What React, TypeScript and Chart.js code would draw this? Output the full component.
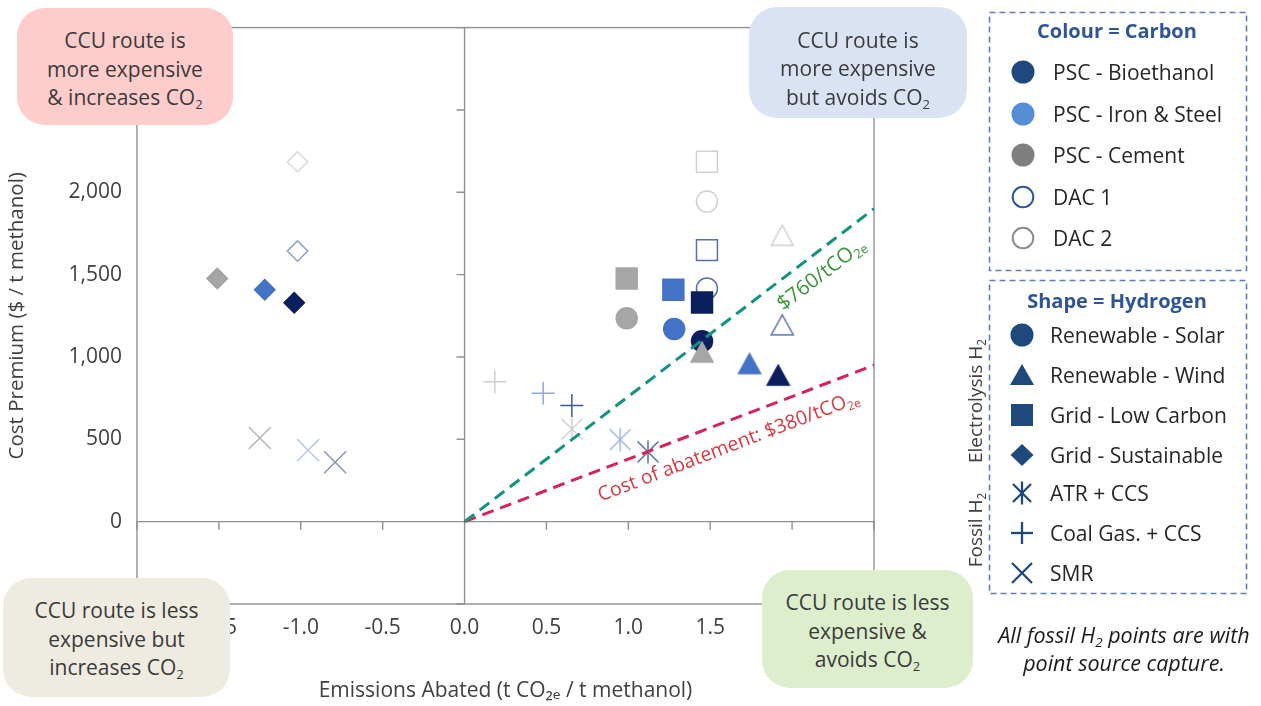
import React, { useEffect, useRef } from 'react';
import { Chart, registerables } from 'chart.js';

Chart.register(...registerables);

const FONT = '"Open Sans", "Noto Sans", sans-serif';

// ---------- axis ranges ----------
const xMin = -2;
const xMax = 2.5;
const xStep = 0.5;
const yMin = -500;
const yMax = 3000;
const yStep = 500;

// ---------- categories ----------
const carbonSources = ['PSC - Bioethanol', 'PSC - Iron & Steel', 'PSC - Cement', 'DAC 1', 'DAC 2'];
const hydrogenRoutes = [
  'Renewable - Solar',
  'Renewable - Wind',
  'Grid - Low Carbon',
  'Grid - Sustainable',
  'ATR + CCS',
  'Coal Gas. + CCS',
  'SMR',
];

// ---------- series values (order = carbonSources) ----------
const solarX = [1.45, 1.28, 0.99, 1.48, 1.48];
const solarY = [1096, 1170, 1235, 1416, 1944];
const windX = [1.915, 1.74, 1.45, 1.94, 1.94];
const windY = [890, 960, 1030, 1195, 1739];
const lowCarbonX = [1.45, 1.275, 0.99, 1.48, 1.48];
const lowCarbonY = [1331, 1408, 1476, 1649, 2185];
const sustainableX = [-1.04, -1.22, -1.51, -1.02, -1.02];
const sustainableY = [1329, 1408, 1476, 1643, 2185];
// fossil routes (order = Bioethanol, Iron & Steel, Cement)
const atrX = [1.12, 0.95, 0.655];
const atrY = [424, 498, 562];
const coalX = [0.655, 0.48, 0.185];
const coalY = [705, 779, 849];
const smrX = [-0.79, -0.955, -1.25];
const smrY = [361, 434, 508];

// cost of abatement lines
const abatementX = [0, 2.5];
const abatement760Y = [0, 1900];
const abatement380Y = [0, 950];

// ---------- styles ----------
const fillColors = ['#0B1F5C', '#4472C4', '#A6A6A6', '#FFFFFF', '#FFFFFF'];
const edgeColors = ['#0B1F5C', '#4472C4', '#A6A6A6', '#5570AA', '#D0D0D0'];
const diamondEdge = ['#0B1F5C', '#4472C4', '#A0A0A0', '#8FA3CC', '#DADADA'];
const atrColors = ['#5A6FA0', '#9DB4E3', '#D0D0D0'];
const coalColors = ['#3F5796', '#8CA8DE', '#CFCFCF'];
const smrColors = ['#8497B8', '#B9CBEA', '#B5B5B5'];
const legendCarbonFill = ['#1F497D', '#558ED5', '#7F7F7F', '#FFFFFF', '#FFFFFF'];
const legendCarbonEdge = ['#1F497D', '#558ED5', '#7F7F7F', '#2F5597', '#8C8C8C'];
const LEGEND_SHAPE = '#1F497D';
const TEXT = '#404040';

const pts = (xs: number[], ys: number[]) => xs.map((x, i) => ({ x, y: ys[i] }));

function makeTriangle(fill: string, stroke: string) {
  const c = document.createElement('canvas');
  c.width = 26;
  c.height = 24;
  const g = c.getContext('2d')!;
  g.beginPath();
  g.moveTo(13, 2);
  g.lineTo(24, 22);
  g.lineTo(2, 22);
  g.closePath();
  g.fillStyle = fill;
  g.fill();
  g.lineWidth = 1.5;
  g.strokeStyle = stroke;
  g.stroke();
  return c;
}

function makeAsterisk(color: string) {
  const c = document.createElement('canvas');
  c.width = 26;
  c.height = 26;
  const g = c.getContext('2d')!;
  g.strokeStyle = color;
  g.lineWidth = 1.5;
  g.beginPath();
  g.moveTo(2.5, 2.5);
  g.lineTo(23.5, 23.5);
  g.moveTo(23.5, 2.5);
  g.lineTo(2.5, 23.5);
  g.moveTo(13, 1.5);
  g.lineTo(13, 24.5);
  g.stroke();
  return c;
}

function drawSubLabel(
  ctx: CanvasRenderingContext2D,
  main: string,
  sub: string,
  size: number,
  color: string,
  cx: number,
  cy: number,
  angle: number
) {
  ctx.save();
  ctx.translate(cx, cy);
  ctx.rotate(-angle);
  const f1 = `${size}px ${FONT}`;
  const f2 = `${Math.round(size * 0.62)}px ${FONT}`;
  ctx.font = f1;
  const w1 = ctx.measureText(main).width;
  ctx.font = f2;
  const w2 = ctx.measureText(sub).width;
  const start = -(w1 + w2) / 2;
  ctx.fillStyle = color;
  ctx.textBaseline = 'middle';
  ctx.textAlign = 'left';
  ctx.font = f1;
  ctx.fillText(main, start, 0);
  ctx.font = f2;
  ctx.fillText(sub, start + w1, size * 0.3);
  ctx.restore();
}

const framePlugin = {
  id: 'frame',
  beforeDatasetsDraw(chart: any) {
    const { ctx, chartArea: a, scales } = chart;
    const x = scales.x;
    const y = scales.y;
    ctx.save();
    ctx.strokeStyle = '#909090';
    ctx.lineWidth = 1.4;
    ctx.strokeRect(a.left, a.top, a.right - a.left, a.bottom - a.top);
    const x0 = x.getPixelForValue(0);
    const y0 = y.getPixelForValue(0);
    ctx.beginPath();
    ctx.moveTo(x0, a.top);
    ctx.lineTo(x0, a.bottom);
    ctx.moveTo(a.left, y0);
    ctx.lineTo(a.right, y0);
    x.ticks.forEach((t: any) => {
      const px = x.getPixelForValue(t.value);
      ctx.moveTo(px, y0);
      ctx.lineTo(px, y0 + 8);
    });
    y.ticks.forEach((t: any) => {
      const py = y.getPixelForValue(t.value);
      ctx.moveTo(x0 - 8, py);
      ctx.lineTo(x0, py);
    });
    ctx.stroke();
    ctx.restore();
  },
  afterDatasetsDraw(chart: any) {
    const { ctx, scales } = chart;
    const x = scales.x;
    const y = scales.y;
    const place = (slope: number, ax: number, d: number) => {
      const px0 = x.getPixelForValue(0);
      const py0 = y.getPixelForValue(0);
      const px1 = x.getPixelForValue(1);
      const py1 = y.getPixelForValue(slope);
      const ang = Math.atan2(py0 - py1, px1 - px0);
      const bx = x.getPixelForValue(ax);
      const by = y.getPixelForValue(slope * ax);
      return { cx: bx + d * Math.sin(ang), cy: by + d * Math.cos(ang), ang };
    };
    const s760 = abatement760Y[1] / abatementX[1];
    const s380 = abatement380Y[1] / abatementX[1];
    const a = place(s760, 2.105, 20.6);
    drawSubLabel(ctx, '$760/tCO', '2e', 20.5, '#3A953A', a.cx, a.cy, a.ang);
    const b = place(s380, 1.56, 24.3);
    drawSubLabel(ctx, 'Cost of abatement: $380/tCO', '2e', 19.5, '#D8373F', b.cx, b.cy, b.ang);
  },
};

const Sub = ({ children }: { children: React.ReactNode }) => (
  <sub style={{ fontSize: '0.62em', verticalAlign: '-0.3em', lineHeight: 0 }}>{children}</sub>
);

function Corner(props: {
  left: number;
  top: number;
  width: number;
  height: number;
  bg: string;
  pt?: number;
  lines: React.ReactNode[];
}) {
  return (
    <div
      style={{
        position: 'absolute',
        left: props.left,
        top: props.top,
        width: props.width,
        height: props.height,
        background: props.bg,
        borderRadius: 28,
        display: 'flex',
        flexDirection: 'column',
        alignItems: 'center',
        justifyContent: 'center',
        textAlign: 'center',
        fontFamily: FONT,
        fontSize: 21,
        lineHeight: '28.5px',
        color: '#3A3A3A',
        paddingTop: props.pt || 0,
        boxSizing: 'border-box',
        whiteSpace: 'nowrap',
      }}
    >
      {props.lines.map((l, i) => (
        <div key={i}>{l}</div>
      ))}
    </div>
  );
}

function ShapeIcon({ kind, cx, cy }: { kind: number; cx: number; cy: number }) {
  const c = LEGEND_SHAPE;
  const sw = 2.3;
  switch (kind) {
    case 0:
      return <circle cx={cx} cy={cy} r={11.5} fill={c} />;
    case 1:
      return <polygon points={`${cx},${cy - 11} ${cx + 12},${cy + 10} ${cx - 12},${cy + 10}`} fill={c} />;
    case 2:
      return <rect x={cx - 11} y={cy - 11} width={22} height={22} fill={c} />;
    case 3:
      return <polygon points={`${cx},${cy - 11} ${cx + 11.5},${cy} ${cx},${cy + 11} ${cx - 11.5},${cy}`} fill={c} />;
    case 4:
      return (
        <g stroke={c} strokeWidth={sw}>
          <line x1={cx - 9} y1={cy - 9} x2={cx + 9} y2={cy + 9} />
          <line x1={cx + 9} y1={cy - 9} x2={cx - 9} y2={cy + 9} />
          <line x1={cx} y1={cy - 11.5} x2={cx} y2={cy + 11.5} />
        </g>
      );
    case 5:
      return (
        <g stroke={c} strokeWidth={sw}>
          <line x1={cx - 11} y1={cy} x2={cx + 11} y2={cy} />
          <line x1={cx} y1={cy - 11} x2={cx} y2={cy + 11} />
        </g>
      );
    default:
      return (
        <g stroke={c} strokeWidth={sw}>
          <line x1={cx - 10} y1={cy - 10} x2={cx + 10} y2={cy + 10} />
          <line x1={cx + 10} y1={cy - 10} x2={cx - 10} y2={cy + 10} />
        </g>
      );
  }
}

const carbonRowY = [72, 114, 155, 197, 238];
const shapeRowY = [335, 375, 415, 455, 493, 533, 573];

export default function App() {
  const ref = useRef<HTMLCanvasElement>(null);

  useEffect(() => {
    const canvas = ref.current!;
    Chart.defaults.font.family = FONT;
    const triangles = windX.map((_, i) => makeTriangle(fillColors[i], edgeColors[i]));
    const asterisks = atrColors.map((c) => makeAsterisk(c));

    const chart = new Chart(canvas, {
      type: 'scatter',
      data: {
        datasets: [
          {
            label: '$760/tCO2e',
            data: pts(abatementX, abatement760Y),
            showLine: true,
            borderColor: '#10937F',
            borderWidth: 3,
            borderDash: [12, 7],
            pointRadius: 0,
            order: 0,
          },
          {
            label: 'Cost of abatement: $380/tCO2e',
            data: pts(abatementX, abatement380Y),
            showLine: true,
            borderColor: '#D62359',
            borderWidth: 3,
            borderDash: [12, 7],
            pointRadius: 0,
            order: 0,
          },
          {
            label: hydrogenRoutes[4],
            data: pts(atrX, atrY),
            pointStyle: asterisks as any,
            pointRadius: 12,
            order: 1,
          },
          {
            label: hydrogenRoutes[5],
            data: pts(coalX, coalY),
            pointStyle: 'cross',
            pointRadius: 11.5,
            pointBorderColor: coalColors,
            pointBorderWidth: 1.5,
            order: 1,
          },
          {
            label: hydrogenRoutes[6],
            data: pts(smrX, smrY),
            pointStyle: 'crossRot',
            pointRadius: 15.6,
            pointBorderColor: smrColors,
            pointBorderWidth: 1.5,
            order: 1,
          },
          {
            label: hydrogenRoutes[1],
            data: pts(windX, windY),
            pointStyle: triangles as any,
            pointRadius: 12,
            order: 2,
          },
          {
            label: hydrogenRoutes[2],
            data: pts(lowCarbonX, lowCarbonY),
            pointStyle: 'rect',
            pointRadius: 14.8,
            pointBackgroundColor: fillColors,
            pointBorderColor: edgeColors,
            pointBorderWidth: 1.5,
            order: 3,
          },
          {
            label: hydrogenRoutes[3],
            data: pts(sustainableX, sustainableY),
            pointStyle: 'rectRot',
            pointRadius: 10.2,
            pointBackgroundColor: fillColors,
            pointBorderColor: diamondEdge,
            pointBorderWidth: 1.5,
            order: 4,
          },
          {
            label: hydrogenRoutes[0],
            data: pts(solarX, solarY),
            pointStyle: 'circle',
            pointRadius: 10.5,
            pointBackgroundColor: fillColors,
            pointBorderColor: edgeColors,
            pointBorderWidth: 1.5,
            order: 5,
          },
        ],
      },
      options: {
        responsive: false,
        devicePixelRatio: 1,
        animation: false,
        events: [],
        layout: { padding: { left: 0, top: 23, right: 387, bottom: 0 } },
        plugins: {
          legend: { display: false },
          tooltip: { enabled: false },
        },
        scales: {
          x: {
            type: 'linear',
            min: xMin,
            max: xMax,
            grid: { display: false, drawTicks: false },
            border: { display: false },
            ticks: {
              stepSize: xStep,
              autoSkip: false,
              maxRotation: 0,
              padding: 11,
              color: TEXT,
              font: { size: 21, family: FONT },
              callback: (v: any) => Number(v).toFixed(1),
            },
            title: {
              display: true,
              text: 'Emissions Abated (t CO₂ₑ / t methanol)',
              color: TEXT,
              font: { size: 21, family: FONT },
              padding: { top: 0, bottom: 2 },
            },
            afterFit: (axis: any) => {
              axis.height = 102;
            },
          },
          y: {
            type: 'linear',
            min: yMin,
            max: yMax,
            grid: { display: false, drawTicks: false },
            border: { display: false },
            ticks: {
              stepSize: yStep,
              autoSkip: false,
              padding: 15,
              color: TEXT,
              font: { size: 21, family: FONT },
              callback: (v: any) => Number(v).toLocaleString('en-US'),
            },
            title: {
              display: true,
              text: 'Cost Premium ($ / t methanol)',
              color: TEXT,
              font: { size: 20.5, family: FONT },
              padding: { top: 5, bottom: 0 },
            },
            afterFit: (axis: any) => {
              axis.width = 137;
            },
          },
        },
      },
      plugins: [framePlugin],
    } as any);
    return () => chart.destroy();
  }, []);

  const legendText: React.CSSProperties = {
    position: 'absolute',
    fontFamily: FONT,
    fontSize: 21,
    color: '#262626',
    whiteSpace: 'nowrap',
    lineHeight: '28px',
    transform: 'translateY(-50%)',
  };

  const legendTitle: React.CSSProperties = {
    position: 'absolute',
    transform: 'translate(-50%, -50%)',
    fontFamily: FONT,
    fontWeight: 700,
    fontSize: 20,
    color: '#2F5597',
    whiteSpace: 'nowrap',
  };

  return (
    <div
      style={{
        position: 'fixed',
        left: 0,
        top: 0,
        width: 1261,
        height: 706,
        background: '#FFFFFF',
        overflow: 'hidden',
      }}
    >
      <canvas ref={ref} width={1261} height={706} style={{ position: 'absolute', left: 0, top: 0 }} />

      <Corner
        left={17}
        top={8}
        width={216}
        height={117}
        bg="#FFCCCC"
        pt={5}
        lines={['CCU route is', 'more expensive', <span>& increases CO<Sub>2</Sub></span>]}
      />
      <Corner
        left={749}
        top={7}
        width={218}
        height={111}
        bg="#DAE3F3"
        pt={12}
        lines={['CCU route is', 'more expensive', <span>but avoids CO<Sub>2</Sub></span>]}
      />
      <Corner
        left={3}
        top={578}
        width={227}
        height={119}
        bg="#EEECE1"
        pt={3}
        lines={['CCU route is less', 'expensive but', <span>increases CO<Sub>2</Sub></span>]}
      />
      <Corner
        left={762}
        top={570}
        width={211}
        height={118}
        bg="#DCEECC"
        pt={4}
        lines={['CCU route is less', 'expensive &', <span>avoids CO<Sub>2</Sub></span>]}
      />

      <svg width={1261} height={706} style={{ position: 'absolute', left: 0, top: 0 }}>
        <rect x={989.5} y={12.5} width={257} height={258} fill="none" stroke="#5E7EB8" strokeWidth={1.6} strokeDasharray="6 4" />
        <rect x={989.5} y={280.5} width={257} height={313} fill="none" stroke="#5E7EB8" strokeWidth={1.6} strokeDasharray="6 4" />
        {carbonSources.map((_, i) =>
          i < 3 ? (
            <circle key={i} cx={1023} cy={carbonRowY[i]} r={11.5} fill={legendCarbonFill[i]} />
          ) : (
            <circle key={i} cx={1023} cy={carbonRowY[i]} r={10.3} fill="#FFFFFF" stroke={legendCarbonEdge[i]} strokeWidth={2} />
          )
        )}
        {hydrogenRoutes.map((_, i) => (
          <ShapeIcon key={i} kind={i} cx={1022} cy={shapeRowY[i]} />
        ))}
      </svg>

      <div style={{ ...legendTitle, left: 1117, top: 30 }}>Colour = Carbon</div>
      {carbonSources.map((s, i) => (
        <div key={s} style={{ ...legendText, left: 1053, top: carbonRowY[i] }}>
          {s}
        </div>
      ))}

      <div style={{ ...legendTitle, left: 1117, top: 300 }}>Shape = Hydrogen</div>
      {hydrogenRoutes.map((s, i) => (
        <div key={s} style={{ ...legendText, left: 1050, top: shapeRowY[i] }}>
          {s}
        </div>
      ))}

      <div
        style={{
          position: 'absolute',
          left: 975,
          top: 401,
          transform: 'translate(-50%, -50%) rotate(-90deg)',
          fontFamily: FONT,
          fontSize: 19,
          color: TEXT,
          whiteSpace: 'nowrap',
          lineHeight: '24px',
        }}
      >
        Electrolysis H<Sub>2</Sub>
      </div>
      <div
        style={{
          position: 'absolute',
          left: 975,
          top: 530,
          transform: 'translate(-50%, -50%) rotate(-90deg)',
          fontFamily: FONT,
          fontSize: 19,
          color: TEXT,
          whiteSpace: 'nowrap',
          lineHeight: '24px',
        }}
      >
        Fossil H<Sub>2</Sub>
      </div>

      <div
        style={{
          position: 'absolute',
          left: 1124,
          top: 649,
          transform: 'translate(-50%, -50%)',
          fontFamily: FONT,
          fontStyle: 'italic',
          fontSize: 21.5,
          lineHeight: '28px',
          color: '#1A1A1A',
          textAlign: 'center',
          whiteSpace: 'nowrap',
        }}
      >
        <div>
          All fossil H<Sub>2</Sub> points are with
        </div>
        <div>point source capture.</div>
      </div>
    </div>
  );
}
